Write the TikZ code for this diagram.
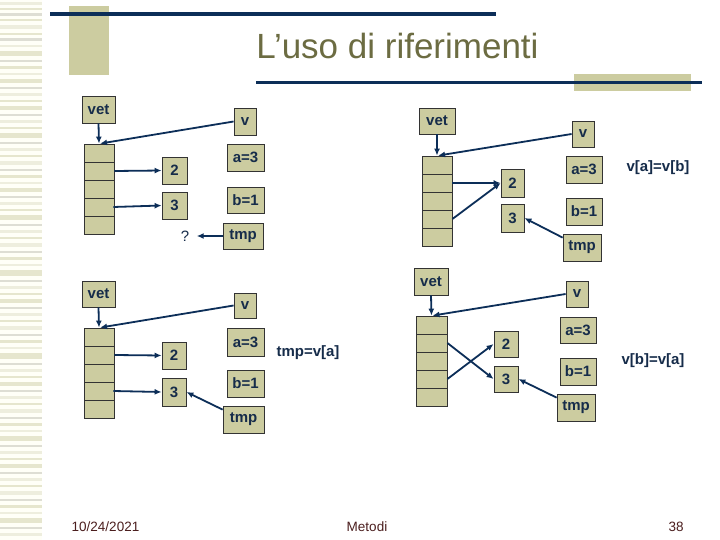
\documentclass[tikz,border=0pt]{standalone}
\usepackage{fontspec}
\setmainfont{Liberation Sans}
\usetikzlibrary{arrows.meta}
\definecolor{beige}{RGB}{204,204,160}
\definecolor{navy}{RGB}{12,46,88}
\definecolor{olive}{RGB}{108,108,66}
\definecolor{labtxt}{RGB}{22,44,74}
\definecolor{foot}{RGB}{75,30,30}
\definecolor{strA}{RGB}{230,230,206}
\definecolor{strB}{RGB}{238,238,222}
\definecolor{strC}{RGB}{222,222,212}
\tikzset{
  box/.style={draw=black!80, line width=0.8pt, fill=beige, inner sep=0pt, text=labtxt,
    font=\fontsize{15}{15}\selectfont\bfseries},
  cell/.style={draw=black!80, line width=0.8pt, fill=beige, inner sep=0pt,
    minimum width=30pt, minimum height=18pt},
  ptr/.style={draw=navy, line width=1.8pt, -{Latex[length=7pt,width=6pt]}},
  plain/.style={text=labtxt, font=\fontsize{15}{15}\selectfont\bfseries},
  foottext/.style={text=foot, font=\fontsize{13.5}{13.5}\selectfont},
}
\begin{document}
\begin{tikzpicture}[x=1pt,y=-1pt]
\useasboundingbox (0,0) rectangle (720,540);
\fill[white] (0,0) rectangle (720,540);
% left stripes
\fill[white!97!yellow] (0,0) rectangle (42,540);
\foreach \yy/\hh/\cc in {2/3/strB,8/2/strA,13/3/strC,19/2/strA,25/4/strB,33/2/strA,38/3/strC,45/2/strB,51/5/strA,60/2/strC,66/3/strA,73/2/strB,79/4/strA,87/2/strC,93/3/strB,100/2/strA,106/4/strA,114/2/strC,120/3/strB,127/2/strA,133/5/strA,142/2/strC,148/3/strB,155/2/strA,161/4/strB,169/2/strC,175/3/strA,182/2/strB,188/4/strA,196/2/strC,202/3/strB,209/2/strA,215/5/strA,224/2/strC,230/3/strB,237/2/strA,243/4/strB,251/2/strC,257/3/strA,264/2/strB,270/6/strA,280/2/strC,286/3/strB,293/2/strA,299/4/strA,307/2/strC,313/3/strB,320/2/strA,326/4/strB,334/2/strC,340/3/strA,347/2/strB,353/6/strA,363/2/strC,369/3/strB,376/2/strA,382/4/strA,390/2/strC,396/3/strB,403/2/strA,409/4/strB,417/2/strC,423/3/strA,430/2/strB,436/5/strA,445/2/strC,451/3/strB,458/2/strA,464/4/strA,472/2/strC,478/3/strB,485/2/strA,491/4/strB,499/2/strC,505/3/strA,512/2/strB,518/5/strA,527/2/strC,533/3/strB}
  \fill[\cc] (0,\yy) rectangle (42,\yy+\hh);
% header decoration
\fill[beige] (69,6) rectangle (109,75);
\fill[beige] (574,74) rectangle (691,91);
\fill[navy] (50,12.3) rectangle (496,15.7);
\fill[navy] (256,81.5) rectangle (702,84.5);
\node[anchor=base, text=olive, font=\fontsize{35}{35}\selectfont] (title) at (397.5,59) {L’uso di riferimenti};
% footer
\node[foottext] (date) at (105.5,527) {10/24/2021};
\node[foottext] (met) at (367,527) {Metodi};
\node[foottext] (num) at (676,527) {38};

% ===== Quadrant 1 =====
\node[box, minimum width=33pt, minimum height=27pt] (vetA) at (98.5,109.5) {vet};
\node[box, minimum width=22pt, minimum height=27pt] (vA) at (245,121.5) {v};
\foreach \k in {1,...,5} \node[cell] (cA\k) at (99,{135+18*\k}) {};
\node[box, minimum width=25pt, minimum height=27pt] (twoA) at (174.5,170.5) {2};
\node[box, minimum width=25pt, minimum height=27pt] (threeA) at (174.5,205.5) {3};
\node[box, minimum width=37pt, minimum height=27pt] (aA) at (245.5,157.5) {a=3};
\node[box, minimum width=37pt, minimum height=26pt] (bA) at (245.5,200) {b=1};
\node[box, minimum width=40pt, minimum height=26pt] (tmpA) at (243,236) {tmp};
\node[plain, font=\fontsize{15}{15}\selectfont] (qA) at (185,236) {?};
\draw[ptr] (vetA.south) -- (cA1.north);
\draw[ptr] (vA.west) -- ([xshift=1pt]cA1.north);
\draw[ptr] (cA2.east) -- (twoA.west);
\draw[ptr] ([xshift=-1pt]cA4.east) -- (threeA.west);
\draw[ptr] (tmpA.west) -- ([xshift=4pt]qA.east);

% ===== Quadrant 2 =====
\node[box, minimum width=36pt, minimum height=26pt] (vetB) at (437,121) {vet};
\node[box, minimum width=22pt, minimum height=26pt] (vB) at (583,134) {v};
\foreach \k in {1,...,5} \node[cell] (cB\k) at (437,{147+18*\k}) {};
\node[box, minimum width=23pt, minimum height=28pt] (twoB) at (512.5,183) {2};
\node[box, minimum width=23pt, minimum height=28pt] (threeB) at (512.5,218) {3};
\node[box, minimum width=36pt, minimum height=27pt] (aB) at (584,169.5) {a=3};
\node[box, minimum width=36pt, minimum height=27pt] (bB) at (584,211.5) {b=1};
\node[box, minimum width=38pt, minimum height=27pt] (tmpB) at (582,247.5) {tmp};
\node[plain] (txtB) at (658,168) {v[a]=v[b]};
\draw[ptr] (vetB.south) -- (cB1.north);
\draw[ptr] (vB.west) -- ([xshift=1pt]cB1.north);
\draw[ptr] (cB2.east) -- (twoB.west);
\draw[ptr] (cB4.east) -- (twoB.west);
\draw[ptr] ([yshift=-4pt]tmpB.north west) -- (threeB.east);

% ===== Quadrant 3 =====
\node[box, minimum width=33pt, minimum height=26pt] (vetC) at (98.5,294) {vet};
\node[box, minimum width=22pt, minimum height=25pt] (vC) at (245,305.5) {v};
\foreach \k in {1,...,5} \node[cell] (cC\k) at (99,{319+18*\k}) {};
\node[box, minimum width=24pt, minimum height=27pt] (twoC) at (174,355.5) {2};
\node[box, minimum width=24pt, minimum height=28pt] (threeC) at (174,392) {3};
\node[box, minimum width=37pt, minimum height=28pt] (aC) at (245.5,342) {a=3};
\node[box, minimum width=37pt, minimum height=27pt] (bC) at (245.5,383.5) {b=1};
\node[box, minimum width=41pt, minimum height=27pt] (tmpC) at (243.5,419.5) {tmp};
\node[plain] (txtC) at (308,353) {tmp=v[a]};
\draw[ptr] (vetC.south) -- (cC1.north);
\draw[ptr] (vC.west) -- ([xshift=1pt]cC1.north);
\draw[ptr] (cC2.east) -- (twoC.west);
\draw[ptr] ([xshift=-1pt]cC4.east) -- (threeC.west);
\draw[ptr] ([yshift=-4pt]tmpC.north west) -- (threeC.east);

% ===== Quadrant 4 =====
\node[box, minimum width=34pt, minimum height=27pt] (vetD) at (431,281.5) {vet};
\node[box, minimum width=22pt, minimum height=26pt] (vD) at (577,294) {v};
\foreach \k in {1,...,5} \node[cell, minimum width=31pt] (cD\k) at (431.5,{307+18*\k}) {};
\node[box, minimum width=24pt, minimum height=26pt] (twoD) at (506,344) {2};
\node[box, minimum width=24pt, minimum height=26pt] (threeD) at (506,379) {3};
\node[box, minimum width=36pt, minimum height=26pt] (aD) at (578,330) {a=3};
\node[box, minimum width=36pt, minimum height=27pt] (bD) at (578,371.5) {b=1};
\node[box, minimum width=38pt, minimum height=27pt] (tmpD) at (576,407.5) {tmp};
\node[plain] (txtD) at (653,361) {v[b]=v[a]};
\draw[ptr] (vetD.south) -- (cD1.north);
\draw[ptr] (vD.west) -- ([xshift=1pt]cD1.north);
\draw[ptr] (cD2.east) -- (threeD.west);
\draw[ptr] (cD4.east) -- (twoD.west);
\draw[ptr] ([yshift=-4pt]tmpD.north west) -- (threeD.east);
\end{tikzpicture}
\end{document}
